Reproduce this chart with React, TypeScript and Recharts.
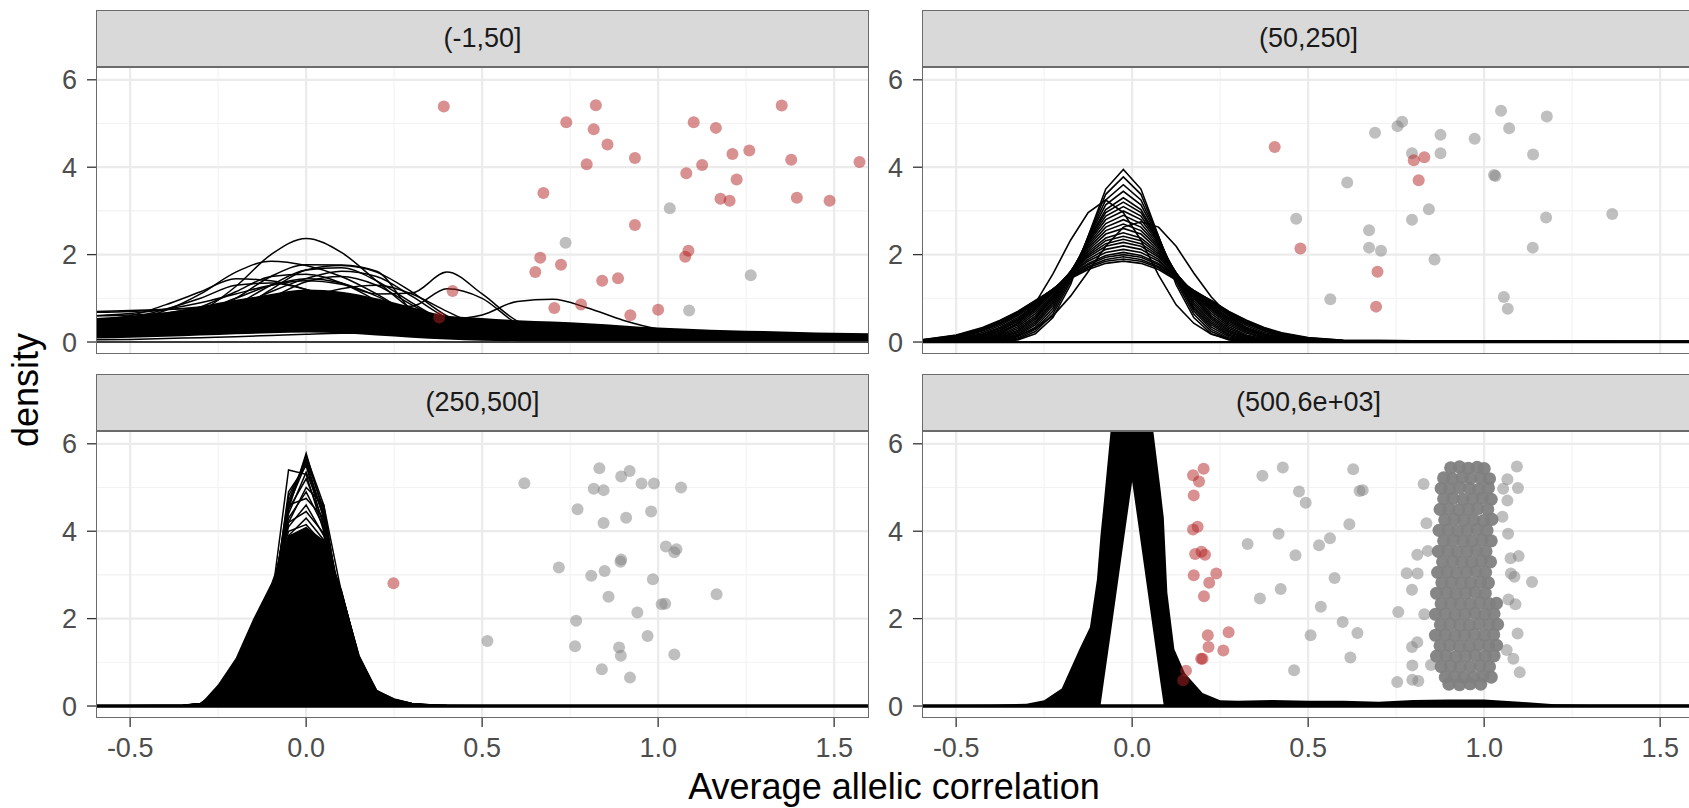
import React from "react";
import {
  ComposedChart,
  Line,
  Area,
  Scatter,
  XAxis,
  YAxis,
  CartesianGrid,
  ReferenceLine,
} from "recharts";

const FONT = '"Liberation Sans", Arial, Helvetica, sans-serif';

// axes
const X_DOMAIN: [number, number] = [-0.597, 1.599];
const Y_DOMAIN: [number, number] = [-0.274, 6.293];
const X_TICKS = [-0.5, 0, 0.5, 1, 1.5];
const X_MINOR = [-0.25, 0.25, 0.75, 1.25];
const Y_TICKS = [0, 2, 4, 6];
const Y_MINOR = [1, 3, 5];
const FACETS = ["(-1,50]", "(50,250]", "(250,500]", "(500,6e+03]"];

// ---- (-1,50] : density curves ----
const TL_X = [-0.6, -0.5, -0.4, -0.3, -0.2, -0.1, 0, 0.1, 0.2, 0.3, 0.4, 0.5, 0.6, 0.7, 0.8, 0.9, 1.0, 1.1, 1.2, 1.3, 1.4, 1.5, 1.6];
const TL_LO = [0.08, 0.1, 0.12, 0.15, 0.18, 0.2, 0.22, 0.2, 0.15, 0.1, 0.06, 0.03, 0.02, 0.02, 0.02, 0.02, 0.02, 0.02, 0.02, 0.02, 0.02, 0.02, 0.02];
const TL_HI = [0.55, 0.6, 0.68, 0.8, 0.95, 1.1, 1.2, 1.15, 1.0, 0.8, 0.6, 0.55, 0.5, 0.47, 0.43, 0.38, 0.33, 0.3, 0.27, 0.25, 0.23, 0.21, 0.2];
const TL_CURVES = [
  [0.3, 0.35, 0.45, 0.7, 1.27, 2.0, 2.37, 2.05, 1.4, 0.75, 0.36, 0.18, 0.12, 0.1, 0.09, 0.08, 0.08, 0.07, 0.07, 0.06, 0.06, 0.06, 0.06],
  [0.4, 0.5, 0.72, 1.1, 1.6, 1.85, 1.75, 1.5, 1.1, 0.62, 0.3, 0.16, 0.12, 0.1, 0.1, 0.09, 0.09, 0.08, 0.08, 0.08, 0.07, 0.07, 0.07],
  [0.3, 0.35, 0.45, 0.62, 1.0, 1.5, 1.77, 1.76, 1.62, 0.72, 0.35, 0.2, 0.14, 0.12, 0.11, 0.1, 0.1, 0.1, 0.09, 0.09, 0.09, 0.08, 0.08],
  [0.6, 0.65, 0.75, 0.9, 1.1, 1.3, 1.4, 1.32, 1.1, 1.12, 1.6, 1.1, 0.48, 0.25, 0.16, 0.13, 0.12, 0.11, 0.1, 0.1, 0.1, 0.09, 0.09],
  [0.5, 0.55, 0.65, 0.8, 0.95, 1.05, 1.1, 1.0, 0.85, 0.82, 1.22, 1.0, 0.42, 0.22, 0.15, 0.12, 0.11, 0.1, 0.1, 0.09, 0.09, 0.09, 0.09],
  [0.2, 0.24, 0.28, 0.33, 0.38, 0.42, 0.46, 0.48, 0.5, 0.5, 0.52, 0.62, 0.93, 0.98, 0.78, 0.5, 0.3, 0.22, 0.18, 0.16, 0.15, 0.14, 0.14],
  [0.25, 0.3, 0.4, 0.55, 0.85, 1.3, 1.65, 1.7, 1.4, 0.9, 0.45, 0.22, 0.14, 0.12, 0.1, 0.1, 0.09, 0.09, 0.08, 0.08, 0.08, 0.08, 0.08],
  [0.35, 0.42, 0.55, 0.8, 1.15, 1.5, 1.55, 1.35, 0.95, 0.55, 0.28, 0.15, 0.12, 0.1, 0.09, 0.09, 0.08, 0.08, 0.08, 0.07, 0.07, 0.07, 0.07],
  [0.2, 0.22, 0.28, 0.38, 0.6, 1.0, 1.38, 1.5, 1.3, 0.85, 0.45, 0.2, 0.13, 0.11, 0.1, 0.09, 0.09, 0.08, 0.08, 0.08, 0.07, 0.07, 0.07],
  [0.45, 0.55, 0.75, 1.0, 1.3, 1.35, 1.2, 0.95, 0.65, 0.4, 0.22, 0.13, 0.1, 0.09, 0.08, 0.08, 0.07, 0.07, 0.07, 0.06, 0.06, 0.06, 0.06],
  [0.15, 0.18, 0.25, 0.4, 0.7, 1.2, 1.65, 1.75, 1.6, 1.15, 0.6, 0.3, 0.18, 0.14, 0.12, 0.11, 0.1, 0.1, 0.09, 0.09, 0.09, 0.08, 0.08],
  [0.05, 0.06, 0.08, 0.1, 0.12, 0.15, 0.18, 0.2, 0.2, 0.18, 0.15, 0.12, 0.1, 0.08, 0.07, 0.06, 0.05, 0.05, 0.05, 0.05, 0.05, 0.05, 0.05],
  [0.7, 0.72, 0.75, 0.78, 0.85, 0.95, 1.0, 0.95, 0.8, 0.6, 0.4, 0.25, 0.18, 0.15, 0.13, 0.12, 0.11, 0.1, 0.1, 0.1, 0.1, 0.1, 0.1],
  [0.5, 0.6, 0.85, 1.15, 1.45, 1.4, 1.2, 0.9, 0.6, 0.35, 0.2, 0.12, 0.1, 0.09, 0.08, 0.08, 0.07, 0.07, 0.07, 0.06, 0.06, 0.06, 0.06],
  [0.2, 0.25, 0.35, 0.5, 0.8, 1.15, 1.45, 1.62, 1.5, 1.05, 0.55, 0.28, 0.16, 0.12, 0.1, 0.1, 0.09, 0.09, 0.08, 0.08, 0.08, 0.08, 0.08],
  [0.15, 0.18, 0.22, 0.3, 0.45, 0.7, 1.0, 1.22, 1.3, 1.1, 0.7, 0.35, 0.2, 0.14, 0.12, 0.11, 0.1, 0.1, 0.09, 0.09, 0.09, 0.09, 0.09],
  [0.35, 0.4, 0.5, 0.7, 1.0, 1.3, 1.45, 1.35, 1.05, 0.65, 0.35, 0.2, 0.14, 0.12, 0.1, 0.1, 0.09, 0.09, 0.08, 0.08, 0.08, 0.08, 0.08],
  [0.6, 0.62, 0.66, 0.72, 0.8, 0.88, 0.9, 0.88, 0.8, 0.68, 0.52, 0.38, 0.28, 0.22, 0.19, 0.17, 0.16, 0.15, 0.14, 0.14, 0.13, 0.13, 0.13],
  [0.68, 0.7, 0.74, 0.8, 0.9, 1.0, 1.05, 1.0, 0.85, 0.6, 0.38, 0.22, 0.16, 0.13, 0.12, 0.11, 0.11, 0.1, 0.1, 0.1, 0.1, 0.1, 0.1],
];
const TL_RED = [
  [0.823, 5.42], [0.739, 5.03], [0.817, 4.87], [0.856, 4.52], [0.797, 4.07], [0.934, 4.21], [0.674, 3.41],
  [0.934, 2.68], [0.665, 1.93], [0.651, 1.6], [0.724, 1.77], [0.841, 1.4], [0.886, 1.46], [0.705, 0.78],
  [0.781, 0.86], [0.921, 0.61], [1.0, 0.74], [1.101, 5.03], [1.164, 4.9], [1.08, 3.86], [1.125, 4.05],
  [1.211, 4.3], [1.259, 4.38], [1.223, 3.72], [1.177, 3.28], [1.203, 3.23], [1.351, 5.41], [1.378, 4.17],
  [1.394, 3.3], [1.487, 3.23], [1.572, 4.12], [1.086, 2.09], [1.077, 1.95], [0.391, 5.39], [0.416, 1.17],
  [0.378, 0.56],
];
const TL_GRAY = [[1.033, 3.06], [0.737, 2.27], [1.263, 1.53], [1.088, 0.72]];

// ---- (50,250] ----
const TR_X = [-0.6, -0.5, -0.425, -0.375, -0.325, -0.275, -0.225, -0.175, -0.125, -0.075, -0.025, 0.025, 0.075, 0.125, 0.175, 0.225, 0.275, 0.325, 0.375, 0.425, 0.5, 0.6, 0.8, 1.0, 1.2, 1.4, 1.6];
const TR_CURVES = [
  [0, 0, 0, 0.01, 0.05, 0.19, 0.56, 1.31, 2.42, 3.5, 3.95, 3.5, 2.42, 1.31, 0.56, 0.19, 0.05, 0.01, 0, 0, 0, 0, 0, 0, 0, 0, 0],
  [0, 0, 0, 0.02, 0.07, 0.24, 0.64, 1.38, 2.41, 3.38, 3.78, 3.38, 2.41, 1.38, 0.64, 0.24, 0.07, 0.02, 0, 0, 0, 0, 0, 0, 0, 0, 0],
  [0, 0, 0, 0.03, 0.09, 0.29, 0.71, 1.44, 2.4, 3.25, 3.6, 3.25, 2.4, 1.44, 0.71, 0.29, 0.09, 0.03, 0.01, 0, 0, 0, 0, 0, 0, 0, 0],
  [0, 0, 0.01, 0.04, 0.12, 0.34, 0.78, 1.49, 2.38, 3.14, 3.45, 3.14, 2.38, 1.47, 0.76, 0.34, 0.12, 0.04, 0.01, 0, 0, 0, 0, 0, 0, 0, 0],
  [0, 0, 0.01, 0.05, 0.15, 0.39, 0.84, 1.53, 2.35, 3.03, 3.3, 3.03, 2.35, 1.5, 0.8, 0.39, 0.15, 0.05, 0.01, 0, 0, 0, 0, 0, 0, 0, 0],
  [0, 0, 0.02, 0.07, 0.18, 0.43, 0.89, 1.56, 2.33, 2.96, 3.2, 2.96, 2.33, 1.53, 0.85, 0.43, 0.18, 0.07, 0.02, 0, 0, 0, 0, 0, 0, 0, 0],
  [0, 0, 0.02, 0.08, 0.21, 0.47, 0.93, 1.58, 2.3, 2.88, 3.1, 2.88, 2.3, 1.55, 0.9, 0.47, 0.21, 0.08, 0.02, 0.01, 0, 0, 0, 0, 0, 0, 0],
  [0, 0.01, 0.03, 0.1, 0.24, 0.52, 0.98, 1.6, 2.27, 2.8, 3.0, 2.8, 2.27, 1.57, 0.95, 0.52, 0.24, 0.1, 0.03, 0.01, 0, 0, 0, 0, 0, 0, 0],
  [0, 0.01, 0.04, 0.12, 0.27, 0.56, 1.02, 1.61, 2.23, 2.71, 2.9, 2.71, 2.23, 1.58, 1.0, 0.56, 0.27, 0.12, 0.04, 0.01, 0, 0, 0, 0, 0, 0, 0],
  [0, 0.02, 0.06, 0.14, 0.31, 0.6, 1.05, 1.61, 2.19, 2.63, 2.8, 2.63, 2.19, 1.58, 1.03, 0.6, 0.31, 0.14, 0.06, 0.02, 0, 0, 0, 0, 0, 0, 0],
  [0, 0.02, 0.07, 0.16, 0.35, 0.65, 1.08, 1.61, 2.15, 2.55, 2.7, 2.55, 2.15, 1.58, 1.05, 0.65, 0.35, 0.16, 0.07, 0.03, 0.01, 0, 0, 0, 0, 0, 0],
  [0, 0.03, 0.09, 0.2, 0.39, 0.7, 1.12, 1.61, 2.1, 2.47, 2.6, 2.47, 2.1, 1.57, 1.08, 0.7, 0.39, 0.2, 0.09, 0.04, 0.02, 0, 0, 0, 0, 0, 0],
  [0.01, 0.03, 0.11, 0.23, 0.43, 0.74, 1.15, 1.61, 2.06, 2.38, 2.5, 2.38, 2.06, 1.56, 1.1, 0.74, 0.43, 0.23, 0.11, 0.05, 0.02, 0, 0, 0, 0, 0, 0],
  [0.01, 0.04, 0.13, 0.26, 0.47, 0.77, 1.17, 1.6, 2.02, 2.32, 2.42, 2.32, 2.02, 1.56, 1.12, 0.77, 0.47, 0.26, 0.13, 0.06, 0.02, 0, 0, 0, 0, 0, 0],
  [0.01, 0.05, 0.15, 0.28, 0.5, 0.8, 1.18, 1.59, 1.98, 2.25, 2.35, 2.25, 1.98, 1.55, 1.13, 0.8, 0.5, 0.28, 0.15, 0.07, 0.02, 0.01, 0, 0, 0, 0, 0],
  [0.02, 0.06, 0.17, 0.31, 0.53, 0.83, 1.19, 1.58, 1.94, 2.19, 2.28, 2.19, 1.94, 1.53, 1.14, 0.83, 0.53, 0.31, 0.17, 0.09, 0.03, 0.01, 0, 0, 0, 0, 0],
  [0.02, 0.06, 0.19, 0.34, 0.56, 0.85, 1.19, 1.56, 1.89, 2.12, 2.2, 2.12, 1.89, 1.5, 1.14, 0.85, 0.56, 0.34, 0.19, 0.1, 0.03, 0.01, 0, 0, 0, 0, 0],
  [0.02, 0.08, 0.22, 0.38, 0.6, 0.88, 1.2, 1.55, 1.85, 2.05, 2.12, 2.05, 1.85, 1.49, 1.15, 0.88, 0.6, 0.38, 0.22, 0.12, 0.05, 0.01, 0, 0, 0, 0, 0],
  [0.02, 0.09, 0.25, 0.41, 0.63, 0.9, 1.21, 1.53, 1.8, 1.98, 2.05, 1.98, 1.8, 1.48, 1.16, 0.9, 0.63, 0.41, 0.25, 0.14, 0.06, 0.01, 0, 0, 0, 0, 0],
  [0.03, 0.11, 0.27, 0.43, 0.65, 0.92, 1.21, 1.51, 1.77, 1.94, 2.0, 1.94, 1.77, 1.47, 1.17, 0.92, 0.65, 0.43, 0.27, 0.16, 0.07, 0.02, 0.01, 0.01, 0.01, 0, 0],
  [0.04, 0.13, 0.29, 0.45, 0.67, 0.93, 1.21, 1.49, 1.73, 1.89, 1.95, 1.89, 1.73, 1.45, 1.18, 0.93, 0.67, 0.45, 0.29, 0.18, 0.07, 0.03, 0.02, 0.02, 0.02, 0.01, 0.01],
  [0.05, 0.15, 0.31, 0.48, 0.69, 0.94, 1.2, 1.47, 1.7, 1.85, 1.9, 1.85, 1.7, 1.44, 1.18, 0.94, 0.69, 0.48, 0.31, 0.2, 0.09, 0.04, 0.03, 0.02, 0.02, 0.02, 0.02],
  [0.05, 0.16, 0.33, 0.5, 0.7, 0.95, 1.2, 1.45, 1.66, 1.8, 1.85, 1.8, 1.66, 1.42, 1.17, 0.95, 0.7, 0.5, 0.33, 0.21, 0.1, 0.04, 0.03, 0.03, 0.02, 0.02, 0.02],
  [0, 0.02, 0.07, 0.18, 0.43, 0.89, 1.56, 2.33, 2.96, 3.25, 2.96, 2.33, 1.53, 0.85, 0.43, 0.18, 0.07, 0.02, 0, 0, 0, 0, 0, 0, 0, 0, 0],
  [0, 0, 0.02, 0.06, 0.14, 0.31, 0.6, 1.05, 1.61, 2.19, 2.63, 2.75, 2.63, 2.19, 1.58, 1.03, 0.6, 0.31, 0.14, 0.06, 0.02, 0, 0, 0, 0, 0, 0],
];
const TR_RED = [[0.405, 4.46], [0.478, 2.14], [0.83, 4.23], [0.8, 4.16], [0.814, 3.7], [0.697, 1.61], [0.693, 0.81]];
const TR_GRAY = [
  [0.466, 2.82], [0.69, 4.79], [0.754, 4.94], [0.767, 5.04], [0.876, 4.74], [0.973, 4.65], [1.048, 5.29],
  [1.178, 5.16], [1.071, 4.89], [0.795, 4.32], [0.876, 4.32], [1.139, 4.29], [1.028, 3.82], [1.032, 3.8],
  [0.611, 3.65], [0.843, 3.04], [0.795, 2.8], [1.176, 2.85], [1.364, 2.93], [0.673, 2.56], [0.673, 2.16],
  [0.707, 2.09], [1.138, 2.16], [0.859, 1.89], [0.563, 0.98], [1.056, 1.03], [1.067, 0.76],
];

// ---- (250,500] ----
const BL_X = [-0.6, -0.35, -0.3, -0.25, -0.2, -0.15, -0.1, -0.05, 0, 0.05, 0.1, 0.15, 0.2, 0.25, 0.3, 0.35, 0.4, 0.6, 0.8, 1.0, 1.2, 1.4, 1.6];
const BL_LO = [0, 0, 0, 0, 0, 0, 0, 0, 0, 0, 0, 0, 0, 0, 0, 0, 0, 0, 0, 0, 0, 0, 0];
const BL_HI = [0, 0.01, 0.05, 0.5, 1.1, 2.0, 2.8, 3.9, 4.1, 3.8, 2.7, 1.15, 0.35, 0.16, 0.06, 0.03, 0.01, 0, 0, 0, 0, 0, 0];
const BL_CURVES = [
  [0, 0, 0.01, 0.05, 0.2, 0.6, 1.9, 4.5, 5.78, 4.4, 2.0, 0.6, 0.15, 0.04, 0.01, 0, 0, 0, 0, 0, 0, 0, 0],
  [0, 0, 0.01, 0.06, 0.25, 0.75, 2.1, 4.6, 5.55, 4.3, 2.1, 0.7, 0.2, 0.05, 0.01, 0, 0, 0, 0, 0, 0, 0, 0],
  [0, 0, 0.02, 0.08, 0.3, 0.8, 2.3, 5.4, 5.3, 4.0, 2.0, 0.7, 0.2, 0.06, 0.02, 0, 0, 0, 0, 0, 0, 0, 0],
  [0, 0, 0.02, 0.1, 0.35, 0.9, 2.4, 4.5, 5.2, 4.2, 2.3, 0.8, 0.25, 0.08, 0.02, 0.01, 0, 0, 0, 0, 0, 0, 0],
  [0, 0, 0.03, 0.12, 0.4, 1.0, 2.5, 4.3, 4.9, 4.1, 2.4, 0.9, 0.3, 0.1, 0.03, 0.01, 0, 0, 0, 0, 0, 0, 0],
  [0, 0.01, 0.04, 0.15, 0.5, 1.1, 2.6, 4.1, 4.6, 3.9, 2.5, 1.0, 0.3, 0.12, 0.04, 0.01, 0, 0, 0, 0, 0, 0, 0],
  [0, 0.01, 0.05, 0.2, 0.6, 1.3, 2.6, 3.9, 4.3, 3.8, 2.6, 1.1, 0.35, 0.14, 0.05, 0.02, 0, 0, 0, 0, 0, 0, 0],
  [0, 0.01, 0.05, 0.25, 0.7, 1.4, 2.65, 3.7, 4.05, 3.6, 2.6, 1.15, 0.35, 0.15, 0.06, 0.02, 0.01, 0, 0, 0, 0, 0, 0],
  [0, 0.02, 0.06, 0.3, 0.8, 1.6, 2.7, 3.5, 3.8, 3.4, 2.6, 1.15, 0.35, 0.16, 0.06, 0.03, 0.01, 0, 0, 0, 0, 0, 0],
  [0, 0.02, 0.06, 0.35, 0.9, 1.7, 2.75, 3.3, 3.5, 3.2, 2.65, 1.1, 0.3, 0.15, 0.06, 0.03, 0.01, 0, 0, 0, 0, 0, 0],
  [0, 0.01, 0.05, 0.3, 0.9, 1.9, 2.5, 2.7, 4.0, 3.7, 2.6, 1.1, 0.3, 0.12, 0.05, 0.02, 0, 0, 0, 0, 0, 0, 0],
  [0, 0, 0.01, 0.05, 0.22, 0.7, 2.0, 4.7, 5.65, 4.5, 2.2, 0.65, 0.18, 0.05, 0.01, 0, 0, 0, 0, 0, 0, 0, 0],
  [0, 0, 0.02, 0.08, 0.3, 0.8, 2.1, 4.2, 5.0, 4.6, 2.6, 0.9, 0.25, 0.08, 0.02, 0, 0, 0, 0, 0, 0, 0, 0],
  [0, 0, 0.01, 0.06, 0.25, 0.7, 2.0, 4.9, 5.5, 4.1, 1.9, 0.6, 0.15, 0.04, 0.01, 0, 0, 0, 0, 0, 0, 0, 0],
  [0, 0, 0.02, 0.08, 0.3, 0.85, 2.2, 4.4, 5.35, 4.4, 2.2, 0.75, 0.2, 0.05, 0.01, 0, 0, 0, 0, 0, 0, 0, 0],
  [0, 0, 0.02, 0.1, 0.35, 0.9, 2.3, 4.6, 4.75, 4.3, 2.4, 0.85, 0.25, 0.07, 0.02, 0, 0, 0, 0, 0, 0, 0, 0],
  [0, 0.01, 0.04, 0.15, 0.5, 1.15, 2.5, 4.2, 4.45, 3.95, 2.5, 1.0, 0.3, 0.1, 0.03, 0.01, 0, 0, 0, 0, 0, 0, 0],
  [0, 0.01, 0.05, 0.2, 0.6, 1.3, 2.6, 4.0, 4.15, 3.7, 2.6, 1.1, 0.35, 0.12, 0.04, 0.01, 0, 0, 0, 0, 0, 0, 0],
  [0, 0, 0.02, 0.08, 0.28, 0.8, 2.1, 4.8, 5.6, 4.3, 2.1, 0.7, 0.2, 0.05, 0.01, 0, 0, 0, 0, 0, 0, 0, 0],
  [0, 0, 0.01, 0.06, 0.25, 0.75, 2.0, 4.6, 5.72, 4.6, 2.05, 0.65, 0.18, 0.04, 0.01, 0, 0, 0, 0, 0, 0, 0, 0],
];
const BL_RED = [[0.248, 2.81]];
const BL_GRAY = [
  [0.515, 1.49], [0.62, 5.1], [0.833, 5.44], [0.919, 5.38], [0.895, 5.25], [0.817, 4.97], [0.845, 4.94],
  [0.953, 5.09], [0.988, 5.09], [1.065, 5.0], [0.771, 4.5], [0.845, 4.19], [0.909, 4.31], [0.98, 4.45],
  [1.022, 3.65], [1.046, 3.52], [1.052, 3.59], [0.895, 3.35], [0.893, 3.3], [0.718, 3.17], [0.81, 2.98],
  [0.848, 3.09], [0.985, 2.9], [0.859, 2.5], [1.166, 2.56], [1.01, 2.33], [1.02, 2.34], [0.941, 2.14],
  [0.767, 1.95], [0.97, 1.6], [0.764, 1.37], [0.889, 1.34], [0.894, 1.15], [1.046, 1.18], [0.84, 0.84],
  [0.92, 0.65],
];

// ---- (500,6e+03] ----
const BR_X = [-0.6, -0.4, -0.3, -0.25, -0.2, -0.15, -0.12, -0.1, -0.09, -0.08, -0.06, -0.04, -0.02, 0, 0.02, 0.04, 0.06, 0.08, 0.09, 0.1, 0.12, 0.15, 0.2, 0.25, 0.3, 0.4, 0.5, 0.6, 0.7, 0.8, 0.9, 1.0, 1.1, 1.2, 1.3, 1.4, 1.6];
const BR_LO = [0, 0, 0, 0, 0, 0, 0, 0, 0, 0.57, 1.7, 2.85, 4.0, 5.13, 4.0, 2.85, 1.7, 0.55, 0, 0, 0, 0, 0, 0, 0, 0, 0, 0, 0, 0, 0, 0, 0, 0, 0, 0, 0];
const BR_HI = [0.02, 0.03, 0.05, 0.13, 0.4, 1.3, 1.8, 2.9, 3.9, 4.7, 6.4, 9, 12, 13, 12, 9, 6.3, 5.0, 4.3, 2.6, 1.3, 0.75, 0.3, 0.13, 0.12, 0.14, 0.12, 0.12, 0.1, 0.14, 0.15, 0.15, 0.1, 0.04, 0.03, 0.03, 0.03];
const BR_RED = [
  [0.203, 5.43], [0.173, 5.28], [0.19, 5.14], [0.175, 4.82], [0.173, 4.04], [0.186, 4.1], [0.179, 3.48],
  [0.197, 3.53], [0.207, 3.46], [0.175, 2.99], [0.239, 3.03], [0.219, 2.82], [0.204, 2.51], [0.215, 1.62],
  [0.274, 1.69], [0.217, 1.35], [0.259, 1.27], [0.196, 1.08], [0.2, 1.08], [0.153, 0.81], [0.145, 0.59],
];
const BR_GRAY = [
  [0.37, 5.27], [0.428, 5.46], [0.474, 4.91], [0.493, 4.65], [0.328, 3.71], [0.416, 3.94], [0.464, 3.45],
  [0.531, 3.68], [0.363, 2.46], [0.422, 2.68], [0.507, 1.62], [0.46, 0.82], [0.536, 2.27], [0.628, 5.42],
  [0.646, 4.92], [0.655, 4.94], [0.617, 4.16], [0.562, 3.84], [0.575, 2.93], [0.598, 1.92], [0.64, 1.67],
  [0.62, 1.11], [0.756, 2.15], [0.753, 0.55], [0.796, 0.6], [0.813, 0.57], [0.796, 0.93], [0.795, 1.35],
  [0.81, 1.46], [0.795, 2.66], [0.78, 3.04], [0.811, 3.03], [0.81, 3.46], [0.84, 3.55], [0.828, 5.08],
  [0.836, 4.18], [0.83, 2.1], [0.849, 0.94], [1.093, 5.48], [1.096, 4.99], [1.066, 4.7], [1.068, 3.94],
  [1.098, 3.43], [1.075, 3.38], [1.136, 2.84], [1.086, 2.96], [1.076, 3.03], [1.069, 2.44], [1.089, 2.33],
  [1.095, 1.66], [1.064, 1.28], [1.083, 1.08], [1.101, 0.77], [1.052, 4.33], [1.054, 4.97], [1.066, 5.19],
];
// the dense jittered column around 0.95
const BR_CORE = [
  [0.905, 5.45], [0.93, 5.47], [0.955, 5.44], [0.98, 5.46], [1.0, 5.43],
  [0.885, 5.22], [0.91, 5.2], [0.938, 5.23], [0.962, 5.21], [0.99, 5.22], [1.015, 5.2],
  [0.878, 4.98], [0.902, 4.97], [0.93, 5.0], [0.958, 4.98], [0.985, 4.96], [1.012, 4.99],
  [0.885, 4.74], [0.912, 4.75], [0.94, 4.73], [0.967, 4.74], [0.995, 4.76], [1.02, 4.73],
  [0.875, 4.5], [0.9, 4.51], [0.928, 4.49], [0.955, 4.5], [0.982, 4.52], [1.01, 4.5],
  [0.888, 4.26], [0.915, 4.27], [0.942, 4.25], [0.97, 4.26], [0.998, 4.24], [1.022, 4.27],
  [0.872, 4.02], [0.898, 4.03], [0.925, 4.01], [0.952, 4.02], [0.98, 4.04], [1.008, 4.02],
  [0.885, 3.78], [0.912, 3.79], [0.94, 3.77], [0.966, 3.78], [0.994, 3.8], [1.02, 3.78],
  [0.87, 3.54], [0.897, 3.55], [0.924, 3.53], [0.952, 3.54], [0.978, 3.56], [1.005, 3.54],
  [0.882, 3.3], [0.91, 3.31], [0.937, 3.29], [0.965, 3.3], [0.992, 3.32], [1.018, 3.3],
  [0.868, 3.06], [0.895, 3.07], [0.922, 3.05], [0.95, 3.06], [0.977, 3.08], [1.004, 3.06],
  [0.88, 2.82], [0.907, 2.83], [0.935, 2.81], [0.962, 2.82], [0.99, 2.84], [1.012, 2.82],
  [0.865, 2.58], [0.893, 2.59], [0.92, 2.57], [0.948, 2.58], [0.975, 2.6], [1.003, 2.58],
  [0.878, 2.34], [0.905, 2.35], [0.932, 2.33], [0.96, 2.34], [0.988, 2.36], [1.015, 2.34], [1.035, 2.35],
  [0.862, 2.1], [0.89, 2.11], [0.918, 2.09], [0.946, 2.1], [0.974, 2.12], [1.002, 2.1], [1.028, 2.11],
  [0.876, 1.86], [0.903, 1.87], [0.931, 1.85], [0.958, 1.86], [0.986, 1.88], [1.014, 1.86], [1.038, 1.87],
  [0.862, 1.62], [0.89, 1.63], [0.918, 1.61], [0.945, 1.62], [0.972, 1.64], [1.0, 1.62], [1.027, 1.63],
  [0.875, 1.38], [0.902, 1.39], [0.93, 1.37], [0.958, 1.38], [0.985, 1.4], [1.013, 1.38], [1.035, 1.39],
  [0.865, 1.14], [0.892, 1.15], [0.92, 1.13], [0.947, 1.14], [0.975, 1.16], [1.003, 1.14], [1.028, 1.15],
  [0.878, 0.9], [0.905, 0.91], [0.932, 0.89], [0.96, 0.9], [0.988, 0.92], [1.015, 0.9],
  [0.89, 0.66], [0.916, 0.67], [0.943, 0.65], [0.97, 0.66], [0.997, 0.68], [1.02, 0.66],
  [0.9, 0.5], [0.93, 0.49], [0.96, 0.51], [0.99, 0.5],
];

// layout
const PANEL_W = 773;
const PANEL_H = 287;
const STRIP_H = 57;
const X_AXIS_H = 60;
const PAD = 16;
const COL_LEFT = [96, 922];
const ROW_TOP = [67, 431];
const Y_AXIS_W = [96, 50];
const BORDER = "1.3px solid #6b6b6b";

function buildRows(xs: number[], curves: number[][], lo?: number[], hi?: number[]) {
  return xs.map((x, i) => {
    const row: Record<string, any> = { x };
    curves.forEach((c, j) => {
      row["c" + j] = c[i];
    });
    if (lo && hi) row.band = [lo[i], hi[i]];
    return row;
  });
}

const toPts = (arr: number[][]) => arr.map(([x, y]) => ({ x, y }));

const dot = (fill: string, opacity: number, r = 6) => (p: any) =>
  <circle cx={p.cx} cy={p.cy} r={r} fill={fill} fillOpacity={opacity} />;

interface FacetProps {
  idx: number;
  rows: Record<string, any>[];
  nCurves: number;
  hasBand: boolean;
  curveType: "monotone" | "linear";
  lineW: number;
  baseW: number;
  red: number[][];
  gray: number[][];
  core?: number[][];
}

function Facet({ idx, rows, nCurves, hasBand, curveType, lineW, baseW, red, gray, core }: FacetProps) {
  const col = idx % 2;
  const row = Math.floor(idx / 2);
  const showX = row === 1;
  const yw = Y_AXIS_W[col];
  const chartW = yw + PANEL_W;
  const chartH = PAD + PANEL_H + (showX ? X_AXIS_H : PAD);
  const left = COL_LEFT[col];
  const top = ROW_TOP[row];
  const tickStyle = { fill: "#4d4d4d", fontSize: 27, fontFamily: FONT };

  return (
    <>
      <div style={{ position: "absolute", left: left - yw, top: top - PAD, width: chartW, height: chartH }}>
        <ComposedChart
          width={chartW}
          height={chartH}
          data={rows}
          margin={{ top: PAD, right: 0, bottom: showX ? 0 : PAD, left: 0 }}
        >
          <CartesianGrid horizontalValues={Y_MINOR} verticalValues={X_MINOR} stroke="#f2f2f2" strokeWidth={1.1} />
          <CartesianGrid horizontalValues={Y_TICKS} verticalValues={X_TICKS} stroke="#ebebeb" strokeWidth={2.2} />
          <XAxis
            type="number"
            dataKey="x"
            domain={X_DOMAIN}
            allowDataOverflow
            ticks={X_TICKS}
            tickFormatter={(v: number) => v.toFixed(1)}
            hide={!showX}
            height={X_AXIS_H}
            axisLine={false}
            tickLine={{ stroke: "#333", strokeWidth: 1.3 }}
            tickSize={9}
            tickMargin={11}
            tick={tickStyle}
            interval={0}
          />
          <YAxis
            type="number"
            domain={Y_DOMAIN}
            allowDataOverflow
            ticks={Y_TICKS}
            width={yw}
            axisLine={false}
            tickLine={{ stroke: "#333", strokeWidth: 1.3 }}
            tickSize={9}
            tickMargin={10}
            tick={tickStyle}
            interval={0}
          />
          {hasBand && (
            <Area
              dataKey="band"
              type={curveType}
              stroke="none"
              fill="#000"
              fillOpacity={1}
              isAnimationActive={false}
              activeDot={false}
            />
          )}
          {Array.from({ length: nCurves }, (_, j) => (
            <Line
              key={j}
              dataKey={"c" + j}
              type={curveType}
              stroke="#000"
              strokeWidth={lineW}
              dot={false}
              activeDot={false}
              isAnimationActive={false}
            />
          ))}
          <ReferenceLine y={0} stroke="#000" strokeWidth={baseW} />
          <Scatter data={toPts(gray)} dataKey="y" shape={dot("#7f7f7f", 0.5)} isAnimationActive={false} />
          {core && <Scatter data={toPts(core)} dataKey="y" shape={dot("#808080", 0.95, 6.6)} isAnimationActive={false} />}
          <Scatter data={toPts(red)} dataKey="y" shape={dot("#b22222", 0.5)} isAnimationActive={false} />
        </ComposedChart>
      </div>
      <div
        style={{
          position: "absolute",
          left,
          top,
          width: PANEL_W,
          height: PANEL_H,
          border: BORDER,
          boxSizing: "border-box",
          pointerEvents: "none",
        }}
      />
      <div
        style={{
          position: "absolute",
          left,
          top: top - STRIP_H,
          width: PANEL_W,
          height: STRIP_H,
          background: "#d9d9d9",
          border: BORDER,
          boxSizing: "border-box",
          display: "flex",
          alignItems: "center",
          justifyContent: "center",
          fontSize: 27,
          color: "#1a1a1a",
          fontFamily: FONT,
        }}
      >
        {FACETS[idx]}
      </div>
    </>
  );
}

export default function App() {
  return (
    <div
      style={{
        position: "absolute",
        left: 0,
        top: 0,
        width: 1689,
        height: 808,
        overflow: "hidden",
        background: "#fff",
        fontFamily: FONT,
      }}
    >
      <Facet idx={0} rows={buildRows(TL_X, TL_CURVES, TL_LO, TL_HI)} nCurves={TL_CURVES.length} hasBand curveType="monotone" lineW={1.5} baseW={1.6} red={TL_RED} gray={TL_GRAY} />
      <Facet idx={1} rows={buildRows(TR_X, TR_CURVES)} nCurves={TR_CURVES.length} hasBand={false} curveType="linear" lineW={1.6} baseW={2.2} red={TR_RED} gray={TR_GRAY} />
      <Facet idx={2} rows={buildRows(BL_X, BL_CURVES, BL_LO, BL_HI)} nCurves={BL_CURVES.length} hasBand curveType="linear" lineW={1.5} baseW={3.5} red={BL_RED} gray={BL_GRAY} />
      <Facet idx={3} rows={buildRows(BR_X, [], BR_LO, BR_HI)} nCurves={0} hasBand curveType="linear" lineW={1.5} baseW={3.5} red={BR_RED} gray={BR_GRAY} core={BR_CORE} />
      <svg width={1689} height={808} style={{ position: "absolute", left: 0, top: 0, pointerEvents: "none" }}>
        <text x={894} y={799} textAnchor="middle" fontSize={36} fill="#000" fontFamily={FONT}>
          Average allelic correlation
        </text>
        <text transform="translate(38,390) rotate(-90)" textAnchor="middle" fontSize={36} fill="#000" fontFamily={FONT}>
          density
        </text>
      </svg>
    </div>
  );
}
